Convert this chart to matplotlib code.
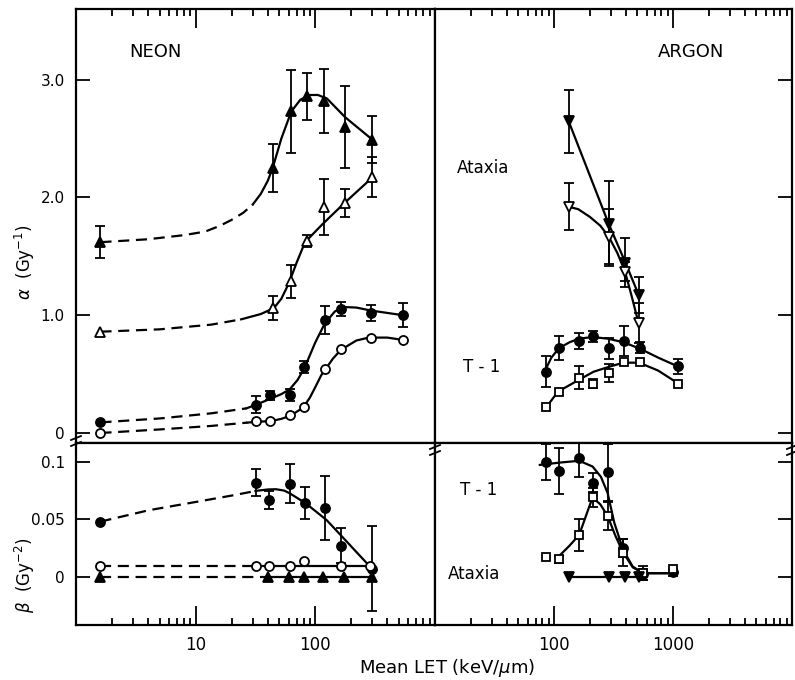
import numpy as np
import matplotlib.pyplot as plt
from matplotlib.lines import Line2D
from matplotlib.ticker import LogLocator, NullFormatter

plt.rcParams['font.family'] = ['DejaVu Sans']

# ---------------- NEON, alpha ----------------
# ataxia (triangles)
neon_ax_let = [1.6, 44, 63, 85, 118, 178, 300]
neon_ax_a_fill = [1.62, 2.25, 2.73, 2.86, 2.82, 2.60, 2.49]
neon_ax_a_fill_err = [0.135, 0.20, 0.35, 0.20, 0.27, 0.35, 0.20]
neon_ax_a_open = [0.86, 1.06, 1.29, 1.63, 1.92, 1.95, 2.17]
neon_ax_a_open_err = [0, 0.10, 0.14, 0.05, 0.24, 0.12, 0.17]
# T-1 (circles)
neon_t1_let = [1.6, 32, 42, 61, 81, 120, 165, 290, 540]
neon_t1_a_fill = [0.09, 0.24, 0.32, 0.32, 0.56, 0.96, 1.05, 1.02, 1.00]
neon_t1_a_fill_err = [0, 0.07, 0.04, 0.05, 0.05, 0.12, 0.06, 0.07, 0.10]
neon_t1_a_open = [0.0, 0.10, 0.10, 0.15, 0.22, 0.54, 0.71, 0.81, 0.79]

# fitted curves (first n points dashed)
fit_neon_ax_fill_let = [1.6, 4, 8, 12, 16, 20, 25, 30, 35, 40, 44, 52, 63, 75, 90, 105, 125, 178, 300]
fit_neon_ax_fill = [1.62, 1.645, 1.68, 1.71, 1.76, 1.81, 1.87, 1.94, 2.03, 2.14, 2.25, 2.50, 2.73, 2.83, 2.87, 2.87, 2.84, 2.68, 2.49]
fit_neon_ax_open_let = [1.6, 5, 13.5, 24, 35, 45, 52, 60, 70, 82, 114, 174, 300]
fit_neon_ax_open = [0.86, 0.88, 0.92, 0.965, 1.01, 1.06, 1.14, 1.27, 1.45, 1.62, 1.77, 1.95, 2.17]
fit_neon_t1_fill_let = [1.6, 5.1, 13.5, 26.5, 32, 42, 52, 61, 71, 81, 100, 120, 145, 168, 220, 290, 540]
fit_neon_t1_fill = [0.09, 0.124, 0.167, 0.209, 0.24, 0.29, 0.33, 0.37, 0.45, 0.55, 0.77, 0.93, 1.03, 1.07, 1.065, 1.04, 1.0]
fit_neon_t1_open_let = [1.6, 5, 13.5, 27, 33, 42, 52, 62, 79, 90, 100, 112, 122, 140, 163, 220, 279, 400, 540]
fit_neon_t1_open = [0.0, 0.03, 0.06, 0.088, 0.096, 0.10, 0.12, 0.147, 0.215, 0.30, 0.39, 0.49, 0.544, 0.63, 0.705, 0.785, 0.81, 0.81, 0.79]

# ---------------- NEON, beta ----------------
neon_b_fill_let = [1.6, 32, 41, 61, 82, 120, 165, 295]
neon_b_fill = [0.048, 0.082, 0.067, 0.081, 0.064, 0.060, 0.027, 0.007]
neon_b_fill_err = [0, 0.012, 0.008, 0.017, 0.014, 0.028, 0.015, 0.037]
neon_b_open_let = [1.6, 32, 41, 61, 81, 163, 285]
neon_b_open = [0.009, 0.009, 0.009, 0.009, 0.0135, 0.009, 0.009]
neon_b_tri_let = [1.6, 40, 60, 80, 115, 175, 295]
neon_b_tri = [0, 0, 0, 0, 0, 0, 0]

fit_neon_b_fill_let = [1.6, 4.1, 10.4, 21.3, 31.6, 40, 47, 55, 61, 83, 124, 167, 295]
fit_neon_b_fill = [0.048, 0.058, 0.0654, 0.0712, 0.0747, 0.0760, 0.0762, 0.0750, 0.0727, 0.064, 0.0494, 0.035, 0.0073]
fit_neon_b_open_let = [1.6, 32, 295]
fit_neon_b_open = [0.009, 0.009, 0.009]
fit_neon_b_tri_let = [1.6, 40, 295]
fit_neon_b_tri = [0, 0, 0]

# ---------------- ARGON, alpha ----------------
argon_ax_let = [133, 288, 398, 515]
argon_ax_a_fill = [2.645, 1.776, 1.447, 1.172]
argon_ax_a_fill_err = [0.27, 0.36, 0.21, 0.15]
argon_ax_a_open = [1.923, 1.668, 1.37, 0.937]
argon_ax_a_open_err = [0.20, 0.23, 0.08, 0.17]
argon_t1_let = [86, 110, 161, 213, 288, 384, 525, 1100]
argon_t1_a_fill = [0.52, 0.72, 0.78, 0.82, 0.72, 0.78, 0.725, 0.565]
argon_t1_a_fill_err = [0.13, 0.10, 0.07, 0.05, 0.09, 0.13, 0.05, 0.06]
argon_t1_a_open = [0.22, 0.35, 0.47, 0.42, 0.51, 0.60, 0.60, 0.42]
argon_t1_a_open_err = [0, 0, 0.10, 0.04, 0.08, 0, 0, 0]

fit_argon_ax_open_let = [131, 160, 200, 245, 288, 340, 395, 450, 512]
fit_argon_ax_open = [1.923, 1.90, 1.835, 1.76, 1.668, 1.53, 1.37, 1.16, 0.937]
fit_argon_t1_fill_let = [86, 95, 110, 135, 161, 211, 286, 384, 530, 750, 1100]
fit_argon_t1_fill = [0.55, 0.64, 0.72, 0.77, 0.80, 0.815, 0.80, 0.77, 0.715, 0.64, 0.565]
fit_argon_t1_open_let = [86, 108, 161, 215, 292, 384, 520, 750, 1100]
fit_argon_t1_open = [0.218, 0.351, 0.45, 0.52, 0.563, 0.597, 0.597, 0.53, 0.422]

# ---------------- ARGON, beta ----------------
argon_b_let = [85, 110, 163, 213, 285, 383, 560, 1000]
argon_b_fill = [0.100, 0.092, 0.103, 0.082, 0.091, 0.025, 0.002, 0.004]
argon_b_fill_err = [0.016, 0.020, 0.016, 0.008, 0.025, 0.008, 0.005, 0.003]
argon_b_open = [0.017, 0.015, 0.0365, 0.069, 0.053, 0.021, 0.003, 0.0067]
argon_b_open_err = [0, 0.003, 0.014, 0.008, 0.012, 0.012, 0.006, 0]
argon_b_tri_let = [133, 288, 398, 515]
argon_b_tri = [0, 0, 0, 0]

fit_argon_b_fill_let = [76, 111, 163, 211, 248, 282, 321, 381, 457, 555, 1000]
fit_argon_b_fill = [0.0974, 0.0994, 0.101, 0.096, 0.087, 0.073, 0.047, 0.0235, 0.009, 0.003, 0.003]
fit_argon_b_open_let = [108, 135, 163, 190, 211, 245, 282, 327, 381, 460, 571, 1000]
fit_argon_b_open = [0.017, 0.027, 0.0365, 0.056, 0.069, 0.063, 0.053, 0.036, 0.021, 0.008, 0.003, 0.003]

LW = 1.6
DASH = (0, (5, 3))


def curve(ax, let, val, n_dash=0):
    if n_dash > 1:
        ax.plot(let[:n_dash], val[:n_dash], color='k', lw=LW, ls=DASH, zorder=2)
        ax.plot(let[n_dash - 1:], val[n_dash - 1:], color='k', lw=LW, zorder=2)
    else:
        ax.plot(let, val, color='k', lw=LW, zorder=2)


def points(ax, let, val, marker, filled, err=None, ms=6.5):
    let = np.asarray(let, float)
    val = np.asarray(val, float)
    if err is not None:
        err = np.asarray(err, float)
        m = err > 0
        ax.errorbar(let[m], val[m], yerr=err[m], fmt='none', ecolor='k',
                    elinewidth=1.3, capsize=3.5, capthick=1.3, zorder=3)
    ax.plot(let, val, ls='none', marker=marker, ms=ms, mew=1.3,
            mec='k', mfc='k' if filled else 'white', zorder=4)


fig = plt.figure(figsize=(7.95, 6.8), dpi=100)
x0, xm, x1 = 76 / 795, 435 / 795, 792 / 795
y_top, y_mid, y_bot = 1 - 9 / 680, 1 - 443 / 680, 1 - 624.5 / 680
ax_na = fig.add_axes([x0, y_mid, xm - x0, y_top - y_mid])
ax_aa = fig.add_axes([xm, y_mid, x1 - xm, y_top - y_mid])
ax_nb = fig.add_axes([x0, y_bot, xm - x0, y_mid - y_bot])
ax_ab = fig.add_axes([xm, y_bot, x1 - xm, y_mid - y_bot])

# neon alpha
curve(ax_na, fit_neon_ax_fill_let, fit_neon_ax_fill, 8)
curve(ax_na, fit_neon_ax_open_let, fit_neon_ax_open, 4)
curve(ax_na, fit_neon_t1_fill_let, fit_neon_t1_fill, 4)
curve(ax_na, fit_neon_t1_open_let, fit_neon_t1_open, 4)
points(ax_na, neon_ax_let, neon_ax_a_fill, '^', True, neon_ax_a_fill_err, 7.5)
points(ax_na, neon_ax_let, neon_ax_a_open, '^', False, neon_ax_a_open_err, 7.5)
points(ax_na, neon_t1_let, neon_t1_a_fill, 'o', True, neon_t1_a_fill_err)
points(ax_na, neon_t1_let, neon_t1_a_open, 'o', False)

# neon beta
curve(ax_nb, fit_neon_b_fill_let, fit_neon_b_fill, 5)
curve(ax_nb, fit_neon_b_open_let, fit_neon_b_open, 2)
curve(ax_nb, fit_neon_b_tri_let, fit_neon_b_tri, 2)
points(ax_nb, neon_b_fill_let, neon_b_fill, 'o', True, neon_b_fill_err)
points(ax_nb, neon_b_open_let, neon_b_open, 'o', False)
points(ax_nb, neon_b_tri_let, neon_b_tri, '^', True, ms=7.5)

# argon alpha
curve(ax_aa, argon_ax_let, argon_ax_a_fill)
curve(ax_aa, fit_argon_ax_open_let, fit_argon_ax_open)
curve(ax_aa, fit_argon_t1_fill_let, fit_argon_t1_fill)
curve(ax_aa, fit_argon_t1_open_let, fit_argon_t1_open)
points(ax_aa, argon_ax_let, argon_ax_a_fill, 'v', True, argon_ax_a_fill_err, 7.5)
points(ax_aa, argon_ax_let, argon_ax_a_open, 'v', False, argon_ax_a_open_err, 7.5)
points(ax_aa, argon_t1_let, argon_t1_a_fill, 'o', True, argon_t1_a_fill_err)
points(ax_aa, argon_t1_let, argon_t1_a_open, 's', False, argon_t1_a_open_err, 6)

# argon beta
curve(ax_ab, fit_argon_b_fill_let, fit_argon_b_fill)
curve(ax_ab, fit_argon_b_open_let, fit_argon_b_open)
curve(ax_ab, argon_b_tri_let, argon_b_tri)
points(ax_ab, argon_b_let, argon_b_fill, 'o', True, argon_b_fill_err)
points(ax_ab, argon_b_let, argon_b_open, 's', False, argon_b_open_err, 6)
points(ax_ab, argon_b_tri_let, argon_b_tri, 'v', True, ms=7.5)

# axes styling
for ax, xl in [(ax_na, (1, 1000)), (ax_nb, (1, 1000)), (ax_aa, (10, 10000)), (ax_ab, (10, 10000))]:
    ax.set_xscale('log')
    ax.set_xlim(*xl)
    ax.xaxis.set_minor_locator(LogLocator(subs=np.arange(2, 10)))
    ax.xaxis.set_minor_formatter(NullFormatter())
    for s in ax.spines.values():
        s.set_linewidth(1.6)
    ax.tick_params(which='both', direction='in', width=1.3, labelsize=12, pad=8)
    ax.tick_params(which='major', length=14)
    ax.tick_params(which='minor', length=5)
    ax.tick_params(axis='y', which='major', length=10)

for ax in (ax_na, ax_aa):
    ax.set_ylim(-0.085, 3.6)
    ax.set_yticks([0, 1, 2, 3])
    ax.tick_params(axis='x', which='both', top=True, bottom=False, labelbottom=False)
for ax in (ax_nb, ax_ab):
    ax.set_ylim(-0.0417, 0.1165)
    ax.set_yticks([0, 0.05, 0.1])
    ax.tick_params(axis='x', which='both', top=False, bottom=True)

ax_na.set_yticklabels(['0', '1.0', '2.0', '3.0'], fontsize=11)
ax_nb.set_yticklabels(['0', '0.05', '0.1'], fontsize=11)
for ax in (ax_aa, ax_ab):
    ax.tick_params(axis='y', left=False, right=True, labelleft=False)

ax_na.set_xticks([10, 100])
ax_nb.set_xticks([10, 100])
ax_nb.set_xticklabels(['10', '100'])
ax_aa.set_xticks([100, 1000])
ax_ab.set_xticks([100, 1000])
ax_ab.set_xticklabels(['100', '1000'])

# panel labels
ax_na.text(0.22, 0.90, 'NEON', transform=ax_na.transAxes, fontsize=13,
           ha='center', va='center')
ax_aa.text(0.717, 0.90, 'ARGON', transform=ax_aa.transAxes, fontsize=13,
           ha='center', va='center')
ax_aa.text(0.06, 0.634, 'Ataxia', transform=ax_aa.transAxes, fontsize=12,
           ha='left', va='center')
ax_aa.text(0.078, 0.175, 'T - 1', transform=ax_aa.transAxes, fontsize=12,
           ha='left', va='center')
ax_ab.text(0.07, 0.74, 'T - 1', transform=ax_ab.transAxes, fontsize=12,
           ha='left', va='center')
ax_ab.text(0.036, 0.276, 'Ataxia', transform=ax_ab.transAxes, fontsize=12,
           ha='left', va='center')

fig.text(25 / 795, 1 - 262 / 680, r'$\alpha$  (Gy$^{-1}$)', rotation=90,
         fontsize=12, ha='center', va='center')
fig.text(25 / 795, 1 - 575 / 680, r'$\beta$  (Gy$^{-2}$)', rotation=90,
         fontsize=12, ha='center', va='center')
fig.text(447 / 795, 1 - 668 / 680, 'Mean LET (keV/$\\mu$m)', fontsize=13,
         ha='center', va='center')

# axis-break marks where the two y scales meet
for xf, yp in [(x0, 441), (xm, 450), (x1, 450)]:
    for d in (-3, 3):
        yc = 1 - (yp + d) / 680
        fig.add_artist(Line2D([xf - 5 / 795, xf + 5 / 795], [yc - 2 / 680, yc + 2 / 680],
                              color='k', lw=1.3, transform=fig.transFigure))

fig.savefig('out.png', dpi=100, facecolor='white')
